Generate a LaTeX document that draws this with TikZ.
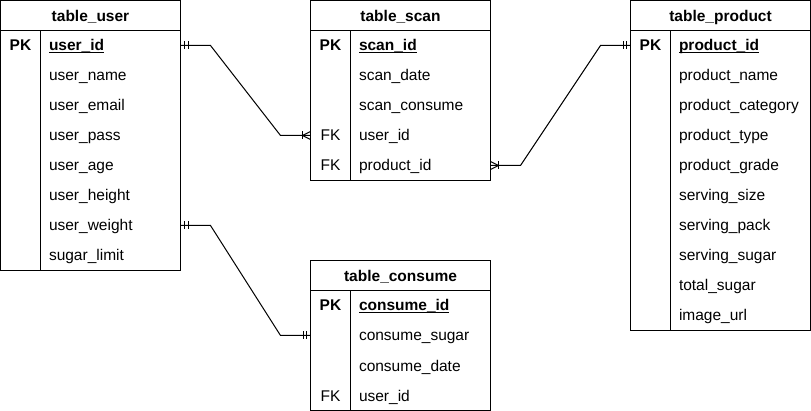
\documentclass[tikz,border=0pt]{standalone}
\usepackage{fontspec}
\setmainfont{Liberation Sans}
\usetikzlibrary{positioning}

\newcommand\keyname[1]{\setbox0\hbox{\bfseries #1}\rlap{\rule[-2pt]{\wd0}{1pt}}\box0}

\begin{document}
\begin{tikzpicture}[x=1pt,y=-1pt,line width=1pt,
    font=\fontsize{15.5}{18}\selectfont,
    head/.style={draw,anchor=north west,minimum width=180pt,minimum height=30pt,
      inner sep=0pt,outer sep=0pt,text height=11.5pt,text depth=0pt,
      font=\fontsize{15.5}{18}\selectfont\bfseries},
    row/.style={minimum width=180pt,minimum height=30pt,inner sep=0pt,outer sep=0pt},
    keycol/.style={anchor=base,inner sep=0pt},
    attr/.style={anchor=base west,inner sep=0pt}]
\useasboundingbox (0,0) rectangle (811,411);

% table_user
\node[head] (user) at (0.5,0.5) {table\_user};
\draw (user.south west) rectangle ++(180,240);
\draw ([xshift=40pt]user.south west) -- ++(0,240);
\foreach \n/\k/\t [count=\i] in {id/\textbf{PK}/\keyname{user\_id},name//user\_name,
    email//user\_email,pass//user\_pass,age//user\_age,height//user\_height,
    weight//user\_weight,limit//sugar\_limit}{
  \node[row] (user-\n) at ([yshift=15pt-30pt*\i]user.south) {};
  \node[keycol] at ([xshift=20pt,yshift=-5.5pt]user-\n.west) {\k};
  \node[attr] at ([xshift=48pt,yshift=-5.5pt]user-\n.west) {\t};
}

% table_scan
\node[head] (scan) at (310.5,0.5) {table\_scan};
\draw (scan.south west) rectangle ++(180,150);
\draw ([xshift=40pt]scan.south west) -- ++(0,150);
\foreach \n/\k/\t [count=\i] in {id/\textbf{PK}/\keyname{scan\_id},date//scan\_date,
    consume//scan\_consume,user/FK/user\_id,product/FK/product\_id}{
  \node[row] (scan-\n) at ([yshift=15pt-30pt*\i]scan.south) {};
  \node[keycol] at ([xshift=20pt,yshift=-5.5pt]scan-\n.west) {\k};
  \node[attr] at ([xshift=48pt,yshift=-5.5pt]scan-\n.west) {\t};
}

% table_product
\node[head] (product) at (630.5,0.5) {table\_product};
\draw (product.south west) rectangle ++(180,300);
\draw ([xshift=40pt]product.south west) -- ++(0,300);
\foreach \n/\k/\t [count=\i] in {id/\textbf{PK}/\keyname{product\_id},name//product\_name,
    category//product\_category,type//product\_type,grade//product\_grade,
    size//serving\_size,pack//serving\_pack,sugar//serving\_sugar,
    total//total\_sugar,image//image\_url}{
  \node[row] (product-\n) at ([yshift=15pt-30pt*\i]product.south) {};
  \node[keycol] at ([xshift=20pt,yshift=-5.5pt]product-\n.west) {\k};
  \node[attr] at ([xshift=48pt,yshift=-5.5pt]product-\n.west) {\t};
}

% table_consume
\node[head] (consume) at (310.5,260.5) {table\_consume};
\draw (consume.south west) rectangle ++(180,120);
\draw ([xshift=40pt]consume.south west) -- ++(0,120);
\foreach \n/\k/\t [count=\i] in {id/\textbf{PK}/\keyname{consume\_id},sugar//consume\_sugar,
    date//consume\_date,user/FK/user\_id}{
  \node[row] (consume-\n) at ([yshift=15pt-30pt*\i]consume.south) {};
  \node[keycol] at ([xshift=20pt,yshift=-5.5pt]consume-\n.west) {\k};
  \node[attr] at ([xshift=48pt,yshift=-5.5pt]consume-\n.west) {\t};
}

% user -> scan
\draw (user-id.east) -- ++(30,0) -- ([xshift=-30pt]scan-user.west) -- (scan-user.west);
\draw ([xshift=4pt]user-id.east) ++(0,-4) -- ++(0,8);
\draw ([xshift=7.5pt]user-id.east) ++(0,-4) -- ++(0,8);
\draw ([xshift=-8pt]scan-user.west) ++(0,-4) -- ++(0,8);
\draw ([yshift=4pt]scan-user.west) -- ([xshift=-8pt]scan-user.west) -- ([yshift=-4pt]scan-user.west);

% product -> scan
\draw (product-id.west) -- ++(-30,0) -- ([xshift=30pt]scan-product.east) -- (scan-product.east);
\draw ([xshift=-4pt]product-id.west) ++(0,-4) -- ++(0,8);
\draw ([xshift=-7.5pt]product-id.west) ++(0,-4) -- ++(0,8);
\draw ([xshift=8pt]scan-product.east) ++(0,-4) -- ++(0,8);
\draw ([yshift=4pt]scan-product.east) -- ([xshift=8pt]scan-product.east) -- ([yshift=-4pt]scan-product.east);

% user -> consume
\draw (user-weight.east) -- ++(30,0) -- ([xshift=-30pt]consume-sugar.west) -- (consume-sugar.west);
\draw ([xshift=4pt]user-weight.east) ++(0,-4) -- ++(0,8);
\draw ([xshift=7.5pt]user-weight.east) ++(0,-4) -- ++(0,8);
\draw ([xshift=-4pt]consume-sugar.west) ++(0,-4) -- ++(0,8);
\draw ([xshift=-7.5pt]consume-sugar.west) ++(0,-4) -- ++(0,8);
\end{tikzpicture}
\end{document}
